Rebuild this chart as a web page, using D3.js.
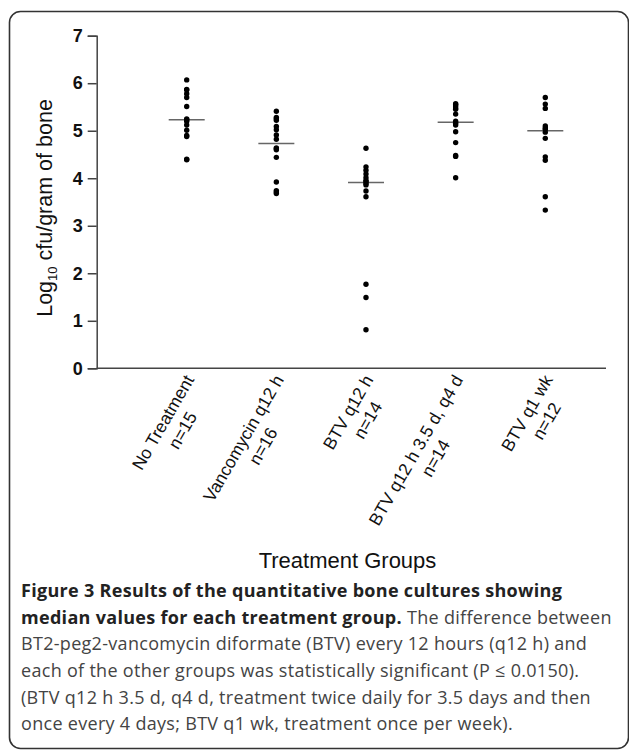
<!DOCTYPE html>
<html lang="en">
<head>
    <meta charset="UTF-8">
    <title>Figure 3 - bone cultures</title>
    <style>
        body { margin: 0; background: #fff; }
        svg { display: block; }
    </style>
</head>
<body>
    <div id="chart"></div>

    <script src="https://d3js.org/d3.v7.min.js"></script>
    <script>
        // Treatment groups and their sizes
        var groups = ["No Treatment", "Vancomycin q12 h", "BTV q12 h", "BTV q12 h 3.5 d, q4 d", "BTV q1 wk"];
        var counts = [15, 16, 14, 14, 12];

        // log10 cfu per gram of bone, one array per group
        var noTreatment = [6.07, 5.87, 5.86, 5.78, 5.70, 5.51, 5.25, 5.23, 5.20, 5.12, 5.01, 4.90, 4.88, 4.40, 4.39];
        var vancomycin = [5.41, 5.28, 5.25, 5.22, 5.09, 5.02, 4.91, 4.82, 4.64, 4.62, 4.60, 4.44, 3.92, 3.74, 3.71, 3.68];
        var btvQ12 = [4.63, 4.24, 4.17, 4.09, 4.01, 3.95, 3.93, 3.89, 3.86, 3.73, 3.61, 1.77, 1.49, 0.81];
        var btvQ4d = [5.57, 5.55, 5.52, 5.48, 5.45, 5.35, 5.20, 5.16, 5.12, 4.98, 4.75, 4.48, 4.46, 4.01];
        var btvQ1wk = [5.70, 5.56, 5.47, 5.10, 5.06, 5.03, 4.97, 4.84, 4.45, 4.38, 3.61, 3.33];
        var series = [noTreatment, vancomycin, btvQ12, btvQ4d, btvQ1wk];

        var yTicks = [0, 1, 2, 3, 4, 5, 6, 7];

        // caption lines: [text, bold?] pieces
        var caption = [
            [["Figure 3 Results of the quantitative bone cultures showing", true]],
            [["median values for each treatment group.", true], [" The difference between", false]],
            [["BT2-peg2-vancomycin diformate (BTV) every 12 hours (q12 h) and", false]],
            [["each of the other groups was statistically significant (P \u2264 0.0150).", false]],
            [["(BTV q12 h 3.5 d, q4 d, treatment twice daily for 3.5 days and then", false]],
            [["once every 4 days; BTV q1 wk, treatment once per week).", false]]
        ];

        var width = 629, height = 750;
        var svg = d3.select("#chart").append("svg")
            .attr("width", width)
            .attr("height", height);

        // rounded frame round the figure
        svg.append("rect")
            .attr("x", 9.5).attr("y", 11.5)
            .attr("width", 619).attr("height", 737)
            .attr("rx", 11)
            .attr("fill", "none")
            .attr("stroke", "#333")
            .attr("stroke-width", 1.6);

        var x = d3.scalePoint().domain(groups).range([186.7, 545.3]);
        var y = d3.scaleLinear().domain([0, 7]).range([368.3, 35.7]);

        // y axis
        var yAxis = svg.append("g")
            .attr("transform", "translate(96.7,0)")
            .call(d3.axisLeft(y).tickValues(yTicks).tickFormat(d3.format("d")).tickSize(9).tickPadding(5));
        yAxis.select(".domain").attr("stroke", "#444").attr("stroke-width", 1.5);
        yAxis.selectAll(".tick line").attr("stroke", "#444").attr("stroke-width", 1.5);
        yAxis.selectAll(".tick text")
            .attr("font-family", "Liberation Sans, Arial, sans-serif")
            .attr("font-size", 18)
            .attr("font-weight", "bold")
            .attr("fill", "#111");

        // x axis line only, no ticks
        svg.append("line")
            .attr("x1", 96.7).attr("x2", 606)
            .attr("y1", y(0)).attr("y2", y(0))
            .attr("stroke", "#444")
            .attr("stroke-width", 1.5);

        // y title with subscript
        var yTitle = svg.append("text")
            .attr("transform", "translate(52,208) rotate(-90)")
            .attr("text-anchor", "middle")
            .attr("font-family", "Liberation Sans, Arial, sans-serif")
            .attr("font-size", 21.5)
            .attr("fill", "#111");
        yTitle.append("tspan").text("Log");
        yTitle.append("tspan").attr("font-size", 13).attr("dy", 5).text("10");
        yTitle.append("tspan").attr("dy", -5).text(" cfu/gram of bone");

        // x title
        svg.append("text")
            .attr("x", 347.5).attr("y", 568)
            .attr("text-anchor", "middle")
            .attr("font-family", "Liberation Sans, Arial, sans-serif")
            .attr("font-size", 22)
            .attr("fill", "#111")
            .text("Treatment Groups");

        // rotated two-line category labels
        var labels = svg.append("g").selectAll("g")
            .data(groups)
            .enter().append("g")
            .attr("transform", function(d) { return "translate(" + (x(d) - 5) + ",372) rotate(-60)"; })
            .attr("font-family", "Liberation Sans, Arial, sans-serif")
            .attr("font-size", 17.5)
            .attr("fill", "#111");

        labels.each(function(d, i) {
            var g = d3.select(this);
            var first = g.append("text")
                .attr("text-anchor", "end")
                .attr("x", 0).attr("y", 15)
                .text(d);
            var w = first.node().getComputedTextLength();
            g.append("text")
                .attr("text-anchor", "middle")
                .attr("x", -w / 2 + 3).attr("y", 36)
                .text("n=" + counts[i]);
        });

        // median lines
        svg.append("g").selectAll("line")
            .data(series)
            .enter().append("line")
            .attr("x1", function(d, i) { return x(groups[i]) - 18; })
            .attr("x2", function(d, i) { return x(groups[i]) + 18; })
            .attr("y1", function(d) { return y(d3.median(d)); })
            .attr("y2", function(d) { return y(d3.median(d)); })
            .attr("stroke", "#666")
            .attr("stroke-width", 1.5);

        // data points
        var points = [];
        series.forEach(function(vals, i) {
            vals.forEach(function(v) { points.push({ group: groups[i], value: v }); });
        });
        svg.append("g").selectAll("circle")
            .data(points)
            .enter().append("circle")
            .attr("cx", function(d) { return x(d.group); })
            .attr("cy", function(d) { return y(d.value); })
            .attr("r", 2.7)
            .attr("fill", "#000");

        // caption
        var cap = svg.append("g")
            .attr("font-family", "Open Sans, Noto Sans, sans-serif")
            .attr("font-size", 18)
            .attr("letter-spacing", 0.3);
        caption.forEach(function(line, i) {
            var t = cap.append("text")
                .attr("x", 21)
                .attr("y", 597 + i * 26.67);
            line.forEach(function(part) {
                t.append("tspan")
                    .attr("font-weight", part[1] ? "bold" : "normal")
                    .attr("fill", part[1] ? "#222" : "#444")
                    .text(part[0]);
            });
        });
    </script>
</body>
</html>
